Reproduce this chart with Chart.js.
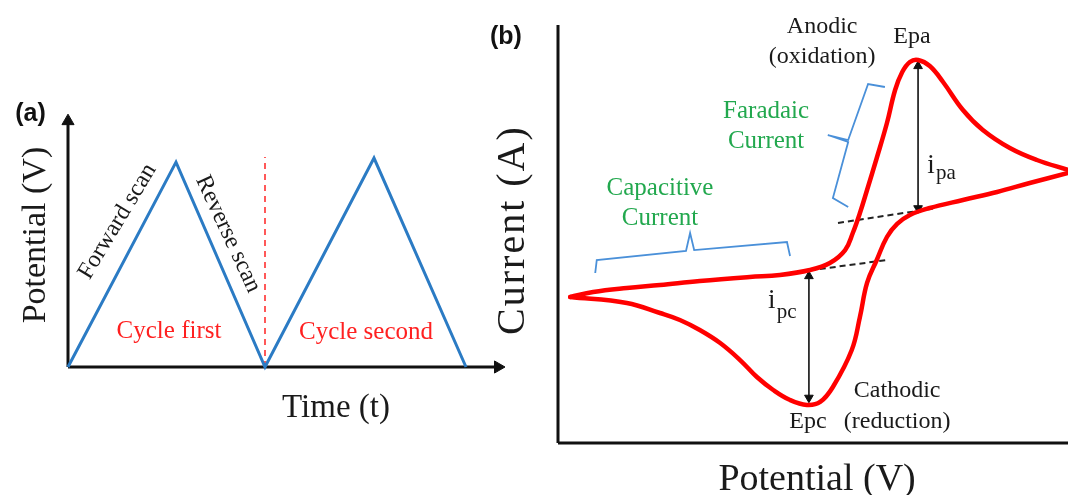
<!DOCTYPE html>
<html><head><meta charset="utf-8">
<script src="https://cdn.jsdelivr.net/npm/chart.js@4.4.1/dist/chart.umd.min.js"></script>
<style>
html,body{margin:0;padding:0;background:#fff;width:1068px;height:495px;overflow:hidden}
canvas{position:absolute;top:0}
#ca{left:0}
#cb{left:470px}
</style></head><body>
<canvas id="ca" width="530" height="495"></canvas>
<canvas id="cb" width="598" height="495"></canvas>
<script>
// ---------- Panel (a): potential waveform ----------
const cycleTime      = [0, 1.08, 1.97, 3.06, 3.98];
const cyclePotential = [0, 1.00, 0, 1.02, 0];
const separatorTime      = [1.97, 1.97];
const separatorPotential = [0, 1.025];
const axisATime      = [0, 4.30];
const axisAPotential = [0, 1.20];

// ---------- Panel (b): cyclic voltammogram ----------
const forwardPotential = [-0.176,-0.131,-0.065,0.000,0.078,0.176,0.235,0.294,0.333,0.363,0.378,0.392,0.406,0.425,0.445,0.461,0.475,0.490,0.506,0.529,0.555,0.594,0.633,0.686,0.739,0.800];
const forwardCurrent   = [-9.04,-8.33,-7.75,-7.32,-6.75,-6.17,-5.88,-5.17,-4.16,-2.30,0.14,3.01,6.32,10.91,15.93,20.67,23.25,24.69,24.97,24.11,21.82,17.80,14.93,12.34,10.62,9.19];
const reversePotential = [0.800,0.725,0.661,0.594,0.529,0.490,0.465,0.445,0.425,0.406,0.392,0.376,0.339,0.314,0.288,0.255,0.222,0.190,0.157,0.118,0.078,0.039,0.000,-0.065,-0.176];
const reverseCurrent   = [8.76,7.32,6.03,4.88,3.73,2.73,1.44,-0.43,-3.73,-7.03,-11.91,-16.65,-21.96,-24.11,-24.54,-23.83,-22.39,-20.53,-18.09,-15.65,-13.78,-12.34,-11.34,-9.90,-9.04];
const anodicBasePotential   = [0.349, 0.543];
const anodicBaseCurrent     = [1.58, 3.73];
const cathodicBasePotential = [0.255, 0.445];
const cathodicBaseCurrent   = [-5.60, -3.73];
const ipaPotential = [0.506, 0.506];
const ipaCurrent   = [24.70, 3.10];
const ipcPotential = [0.292, 0.292];
const ipcCurrent   = [-5.45, -24.10];
const capBracketPotential = [-0.127,-0.124,0.051,0.059,0.067,0.249,0.255];
const capBracketCurrent   = [-5.60,-3.73,-2.44,0.14,-2.30,-1.15,-3.16];
const farBracketPotential = [0.441,0.408,0.369,0.329,0.369,0.339,0.369];
const farBracketCurrent   = [21.10,21.53,13.49,14.21,13.21,5.17,3.88];
const axisBPotential = [-0.2, 0.8];
const axisBCurrent   = [-30, 30];

const zip = (xs, ys) => xs.map((x, i) => ({x, y: ys[i]}));
const SERIF = '"Liberation Serif", "Times New Roman", serif';
const SANS = '"Liberation Sans", Arial, sans-serif';

function textPlugin(items) {
  return {
    id: 'texts',
    afterDatasetsDraw(chart) {
      const ctx = chart.ctx, xs = chart.scales.x, ys = chart.scales.y;
      items.forEach(it => {
        ctx.save();
        ctx.font = it.font;
        ctx.fillStyle = it.color || '#1a1a1a';
        ctx.textAlign = it.align || 'center';
        ctx.textBaseline = it.baseline || 'alphabetic';
        if (it.spacing) ctx.letterSpacing = it.spacing;
        ctx.translate(xs.getPixelForValue(it.x), ys.getPixelForValue(it.y));
        if (it.rot) ctx.rotate(it.rot * Math.PI / 180);
        ctx.fillText(it.text, 0, 0);
        ctx.restore();
      });
    }
  };
}

const lineDs = (data, color, width, extra) => Object.assign({
  data, showLine: true, borderColor: color, backgroundColor: color,
  borderWidth: width, pointRadius: 0, pointHoverRadius: 0, tension: 0, clip: false,
  borderJoinStyle: 'miter'
}, extra || {});

const hidden = (min, max) => ({type: 'linear', min, max, display: false});

// ---------- Chart (a) ----------
new Chart(document.getElementById('ca'), {
  type: 'scatter',
  data: {datasets: [
    lineDs(zip(cycleTime, cyclePotential), '#2b7bc4', 3),
    lineDs(zip(separatorTime, separatorPotential), '#ff3030', 1.6, {borderDash: [6, 5]}),
    lineDs([{x: axisATime[0], y: 0}, {x: axisATime[1], y: 0}], '#111', 3),
    lineDs([{x: 0, y: axisAPotential[0]}, {x: 0, y: axisAPotential[1]}], '#111', 3),
    {data: [{x: axisATime[1], y: 0}, {x: 0, y: axisAPotential[1]}], showLine: false,
     pointStyle: 'triangle', pointRadius: 7, pointRotation: [90, 0],
     backgroundColor: '#111', borderColor: '#111', borderWidth: 1, clip: false}
  ]},
  options: {
    responsive: false, animation: false, devicePixelRatio: 1,
    layout: {autoPadding: false, padding: {left: 68, right: 25, top: 115, bottom: 128}},
    plugins: {legend: {display: false}, tooltip: {enabled: false}},
    scales: {x: hidden(0, 4.37), y: hidden(0, 1.23)}
  },
  plugins: [textPlugin([
    {text: '(a)', x: -0.375, y: 1.235, font: 'bold 25px ' + SANS, baseline: 'middle', color: '#111'},
    {text: 'Potential (V)', x: -0.32, y: 0.644, rot: -90, font: '34px ' + SERIF, baseline: 'middle'},
    {text: 'Time (t)', x: 2.68, y: -0.244, font: '33px ' + SERIF},
    {text: 'Forward scan', x: 0.495, y: 0.71, rot: -59, font: '24px ' + SERIF, baseline: 'middle'},
    {text: 'Reverse scan', x: 1.60, y: 0.649, rot: 65, font: '24px ' + SERIF, baseline: 'middle'},
    {text: 'Cycle first', x: 1.01, y: 0.1415, font: '25px ' + SERIF, color: '#ff2020'},
    {text: 'Cycle second', x: 2.98, y: 0.137, font: '25px ' + SERIF, color: '#ff2020'}
  ])]
});

// ---------- Chart (b) ----------
new Chart(document.getElementById('cb'), {
  type: 'scatter',
  data: {datasets: [
    lineDs([{x: axisBPotential[0], y: axisBCurrent[0]}, {x: axisBPotential[0], y: axisBCurrent[1]}], '#111', 3),
    lineDs([{x: axisBPotential[0], y: axisBCurrent[0]}, {x: axisBPotential[1], y: axisBCurrent[0]}], '#111', 3),
    lineDs(zip(capBracketPotential, capBracketCurrent), '#4a90d9', 1.8),
    lineDs(zip(farBracketPotential, farBracketCurrent), '#4a90d9', 1.8),
    lineDs(zip(forwardPotential, forwardCurrent), '#ff0000', 4.5, {tension: 0.4, borderJoinStyle: 'round', borderCapStyle: 'round'}),
    lineDs(zip(reversePotential, reverseCurrent), '#ff0000', 4.5, {tension: 0.4, borderJoinStyle: 'round', borderCapStyle: 'round'}),
    lineDs(zip(anodicBasePotential, anodicBaseCurrent), '#222', 2, {borderDash: [6, 4]}),
    lineDs(zip(cathodicBasePotential, cathodicBaseCurrent), '#222', 2, {borderDash: [6, 4]}),
    lineDs(zip(ipaPotential, ipaCurrent), '#111', 1.6),
    lineDs(zip(ipcPotential, ipcCurrent), '#111', 1.6),
    {data: [{x: ipaPotential[0], y: ipaCurrent[0] - 0.6}, {x: ipaPotential[1], y: ipaCurrent[1] + 0.6},
            {x: ipcPotential[0], y: ipcCurrent[0] - 0.6}, {x: ipcPotential[1], y: ipcCurrent[1] + 0.6}],
     showLine: false, pointStyle: 'triangle', pointRadius: 5, pointRotation: [0, 180, 0, 180],
     backgroundColor: '#111', borderColor: '#111', borderWidth: 1, clip: false}
  ]},
  options: {
    responsive: false, animation: false, devicePixelRatio: 1,
    layout: {autoPadding: false, padding: {left: 88, right: 0, top: 25, bottom: 52}},
    plugins: {legend: {display: false}, tooltip: {enabled: false}},
    scales: {x: hidden(-0.2, 0.8), y: hidden(-30, 30)}
  },
  plugins: [textPlugin([
    {text: '(b)', x: -0.302, y: 28.3, font: 'bold 25px ' + SANS, baseline: 'middle', color: '#111'},
    {text: 'Current (A)', x: -0.288, y: 0.57, rot: -90, font: '40px ' + SERIF, baseline: 'middle', spacing: '2px'},
    {text: 'Potential (V)', x: 0.308, y: -36.74, font: '38px ' + SERIF},
    {text: 'Anodic', x: 0.318, y: 28.78, font: '24px ' + SERIF},
    {text: '(oxidation)', x: 0.318, y: 24.54, font: '24px ' + SERIF},
    {text: 'Epa', x: 0.494, y: 27.41, font: '24px ' + SERIF},
    {text: 'Faradaic', x: 0.208, y: 16.65, font: '25px ' + SERIF, color: '#22a84e'},
    {text: 'Current', x: 0.208, y: 12.34, font: '25px ' + SERIF, color: '#22a84e'},
    {text: 'Capacitive', x: 0.0, y: 5.60, font: '25px ' + SERIF, color: '#22a84e'},
    {text: 'Current', x: 0.0, y: 1.29, font: '25px ' + SERIF, color: '#22a84e'},
    {text: 'Cathodic', x: 0.465, y: -23.40, font: '24px ' + SERIF},
    {text: 'Epc', x: 0.290, y: -27.85, font: '24px ' + SERIF},
    {text: '(reduction)', x: 0.465, y: -27.85, font: '24px ' + SERIF},
    {text: 'i', x: 0.524, y: 8.76, font: '27px ' + SERIF, align: 'left'},
    {text: 'pa', x: 0.541, y: 7.90, font: '21px ' + SERIF, align: 'left'},
    {text: 'i', x: 0.212, y: -10.62, font: '27px ' + SERIF, align: 'left'},
    {text: 'pc', x: 0.229, y: -12.1, font: '21px ' + SERIF, align: 'left'}
  ])]
});
</script>
</body></html>
